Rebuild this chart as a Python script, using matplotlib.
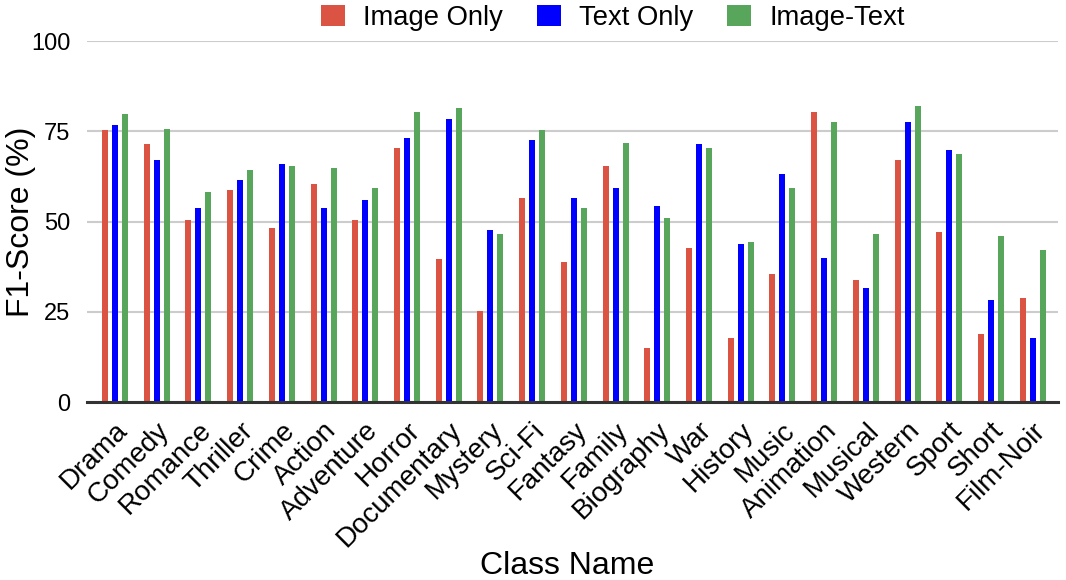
import numpy as np
import matplotlib
matplotlib.use('Agg')
import matplotlib.pyplot as plt
import matplotlib.transforms as mtransforms

plt.rcParams['font.family'] = ['Liberation Sans', 'DejaVu Sans']

classes = ['Drama', 'Comedy', 'Romance', 'Thriller', 'Crime', 'Action', 'Adventure',
           'Horror', 'Documentary', 'Mystery', 'Sci-Fi', 'Fantasy', 'Family', 'Biography',
           'War', 'History', 'Music', 'Animation', 'Musical', 'Western', 'Sport', 'Short',
           'Film-Noir']
image_only = [75.4, 71.4, 50.4, 58.7, 48.2, 60.3, 50.4, 70.3, 39.8, 25.4, 56.5, 38.7,
              65.3, 14.9, 42.6, 17.7, 35.4, 80.3, 33.8, 67.0, 47.0, 18.8, 28.8]
text_only = [76.8, 67.0, 53.7, 61.4, 65.9, 53.7, 55.9, 73.1, 78.5, 47.6, 72.5, 56.5,
             59.2, 54.2, 71.4, 43.7, 63.1, 39.9, 31.5, 77.5, 69.7, 28.2, 17.7]
image_text = [79.7, 75.7, 58.1, 64.2, 65.3, 64.8, 59.2, 80.3, 81.4, 46.5, 75.3, 53.7,
              71.9, 50.9, 70.3, 44.3, 59.2, 77.5, 46.5, 81.9, 68.6, 45.9, 42.1]

series = [('Image Only', image_only, '#da5343'),
          ('Text Only', text_only, '#0000ff'),
          ('Image-Text', image_text, '#58a55c')]

W, H = 1066, 580
fig = plt.figure(figsize=(W / 100, H / 100), dpi=100)
ax = fig.add_axes([87 / W, 1 - 402.3 / H, (1058 - 87) / W, (402.3 - 41) / H])

x = np.arange(len(classes))
bw = 0.144
step = 0.24
for i, (name, vals, col) in enumerate(series):
    ax.bar(x + (i - 1) * step, vals, width=bw, color=col, label=name, zorder=3)

ax.set_ylim(0, 100)
ax.set_xlim(-0.671, 22.607)
ax.set_yticks([0, 25, 50, 75, 100])
ax.yaxis.grid(True, color='#cccccc', linewidth=1.5, zorder=0)
ax.set_axisbelow(True)
for s in ['top', 'right', 'left']:
    ax.spines[s].set_visible(False)
ax.spines['bottom'].set_color('#333333')
ax.spines['bottom'].set_linewidth(2.2)
ax.spines['bottom'].set_zorder(4)
ax.tick_params(axis='both', length=0)
ax.tick_params(axis='y', labelsize=17, pad=12)
ax.set_xticks(x)
ax.set_xticklabels(classes, rotation=45, ha='right', va='center',
                   rotation_mode='anchor', fontsize=20)
ax.tick_params(axis='x', pad=16)
# nudge the rotated labels so their ends sit where the reference has them
shift = mtransforms.ScaledTranslation(9 / 100, -2 / 100, fig.dpi_scale_trans)
for lab in ax.get_xticklabels():
    lab.set_transform(lab.get_transform() + shift)

fig.text(567 / W, 1 - 574 / H, 'Class Name', fontsize=23, ha='center', va='baseline')
fig.text(21 / W, 1 - 222 / H, 'F1-Score (%)', fontsize=23, rotation=90,
         ha='center', va='center')

fig.legend(loc='center', bbox_to_anchor=(613 / W, 1 - 18 / H), ncol=3, frameon=False,
           fontsize=19.7, handlelength=0.88, handleheight=0.84, handletextpad=0.66,
           columnspacing=1.24, borderpad=0, borderaxespad=0)

fig.savefig('out.png', dpi=100)
